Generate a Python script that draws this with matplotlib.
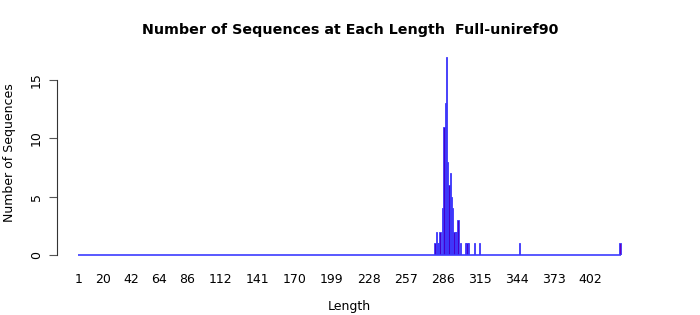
import numpy as np
import matplotlib
matplotlib.use("Agg")
import matplotlib.pyplot as plt
from matplotlib.colors import LinearSegmentedColormap

# lengths that occur and how many sequences have them
lengths = [280, 281, 282, 283, 284, 286, 287, 288, 289, 290, 291, 292, 293, 294,
           295, 296, 297, 298, 300, 304, 305, 306, 311, 315, 346, 425]
counts = [1, 2, 1, 1, 2, 4, 11, 13, 17, 8, 6, 7, 5, 4,
          2, 2, 2, 3, 1, 1, 1, 1, 1, 1, 1, 1]
tick_labels = [1, 20, 42, 64, 86, 112, 141, 170, 199, 228, 257, 286, 315, 344, 373, 402]

# every length from 1 up to the max gets a bar (zeros included)
all_len = np.arange(1, max(lengths) + 1)
all_cnt = np.zeros(len(all_len))
for L, c in zip(lengths, counts):
    all_cnt[L - 1] = c

cmap = LinearSegmentedColormap.from_list("bp", ["#0000e6", "#6600c0"])
colors = cmap(np.linspace(0, 1, len(all_len)))
edge = "#3c3cff"

fig = plt.figure(figsize=(7, 3.15), dpi=100)
# axes box in pixels: left 57, right 642, bottom 255, top 50
ax = fig.add_axes([57 / 700, 1 - 255 / 315, (642 - 57) / 700, (255 - 50) / 315])

ax.bar(all_len, all_cnt, width=1.0, color=colors, edgecolor=edge, linewidth=0.6)
# zero-height bars show up as a line along the base
ax.hlines(0, all_len[0] - 0.5, all_len[-1] + 0.5, color=edge, linewidth=1.2,
          zorder=3, clip_on=False)

px_per_unit = (620 - 79) / (425 - 1)
ax.set_xlim(1 - 22 / px_per_unit, 425 + 22 / px_per_unit)
ax.set_ylim(0, 205 / (175 / 15))

for s in ["top", "right", "bottom"]:
    ax.spines[s].set_visible(False)
ax.spines["left"].set_bounds(0, 15)
ax.spines["left"].set_color("#333333")
ax.spines["left"].set_linewidth(0.8)

ax.set_yticks([0, 5, 10, 15])
ax.tick_params(axis="y", length=6, width=0.8, color="#555555", labelsize=9, pad=4)
for t in ax.get_yticklabels():
    t.set_rotation(90)
    t.set_va("center")

ax.set_xticks(tick_labels)
ax.set_xticklabels([str(v) for v in tick_labels])
ax.tick_params(axis="x", length=0, labelsize=9, pad=13)

ax.set_xlabel("Length", fontsize=9, labelpad=10)
ax.set_ylabel("Number of Sequences", fontsize=9, labelpad=10)
fig.suptitle("Number of Sequences at Each Length  Full-uniref90", fontsize=10.3,
             fontweight="bold", x=0.5, y=1 - 30 / 315, va="center")

fig.savefig("out.png", dpi=100)
